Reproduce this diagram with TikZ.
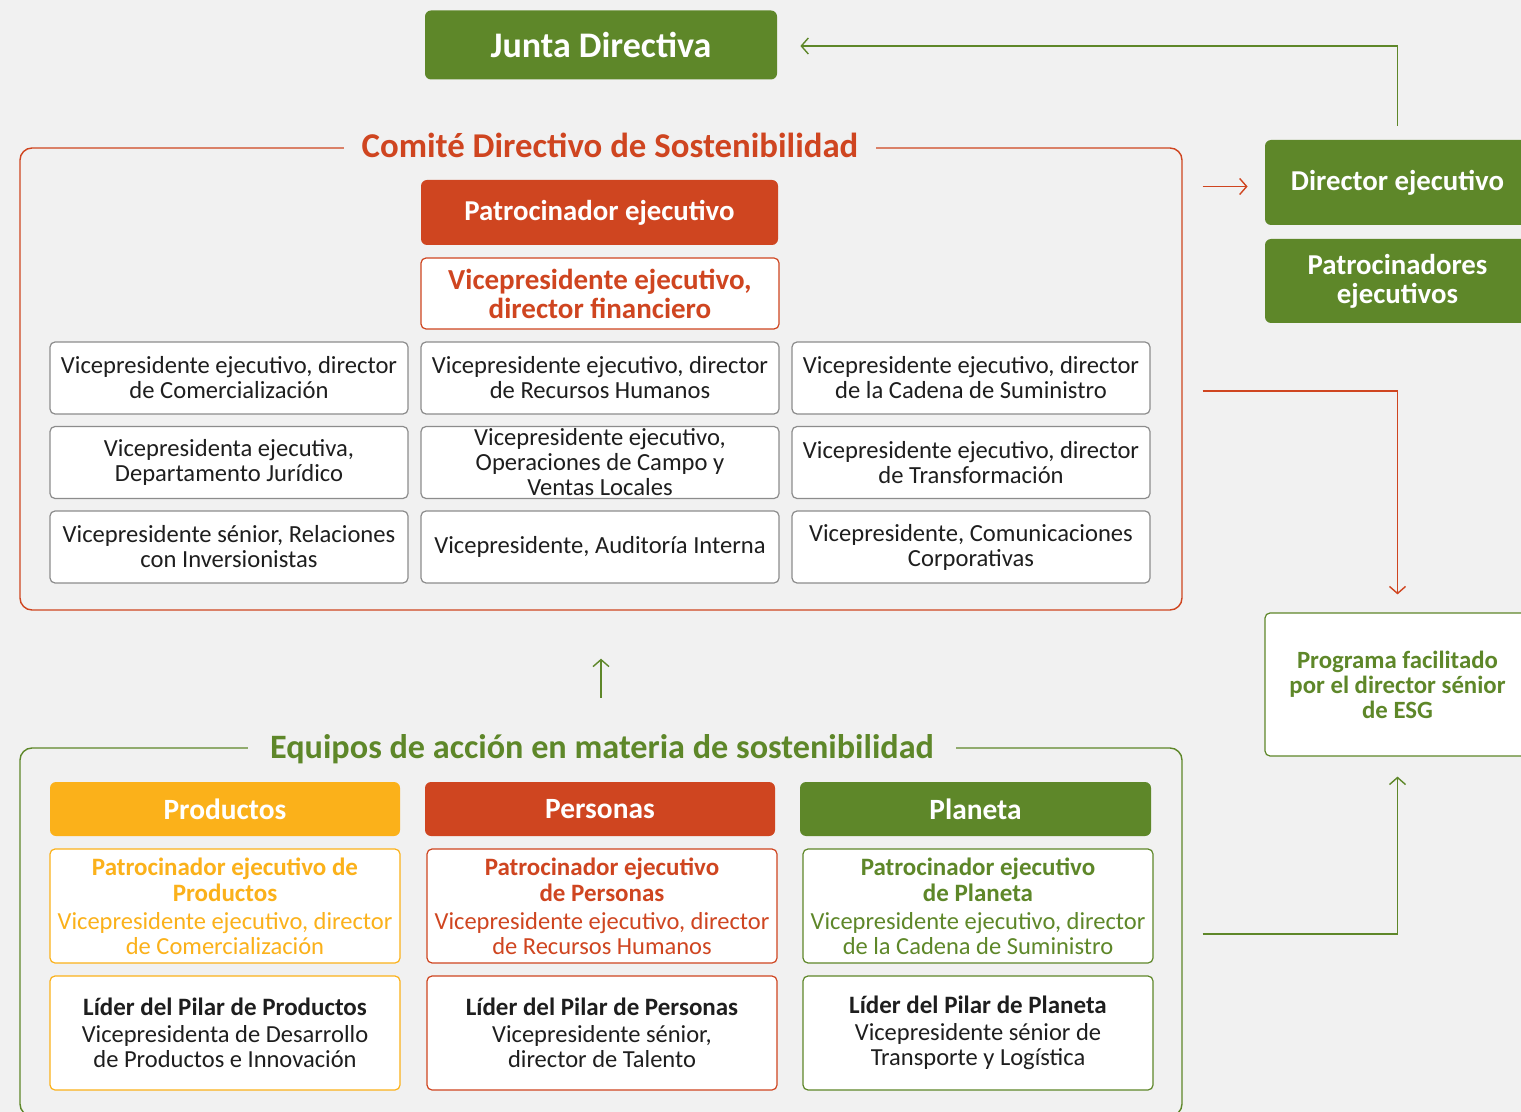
\documentclass[tikz,border=0pt]{standalone}
\usepackage{fontspec}
\setmainfont{Carlito}
\usetikzlibrary{arrows.meta}
\definecolor{cgreen}{HTML}{5E8729}
\definecolor{cred}{HTML}{CF4520}
\definecolor{cyellow}{HTML}{FBB11A}
\definecolor{cbg}{HTML}{F1F1F1}
\definecolor{cgray}{HTML}{8C8C8C}
\definecolor{ctext}{HTML}{1E1E1E}
\newcommand{\fbody}{\fontsize{12.3}{12.5}\selectfont}
\newcommand{\fsub}{\fontsize{12.25}{12.5}\selectfont}
\newcommand{\fsubb}{\bfseries\fontsize{12.5}{12.5}\selectfont}
\begin{document}
\begin{tikzpicture}[x=0.5pt,y=-0.5pt,
  base/.style={align=center, inner sep=0pt, rounded corners=2.5pt},
  fillbox/.style={base, rounded corners=3pt, text=white, font=\bfseries\fontsize{14.4}{14.5}\selectfont},
  gridbox/.style={base, draw=cgray, line width=0.6pt, fill=white, text=ctext,
    minimum width=179pt, minimum height=36pt, font=\fbody},
  subbox/.style={base, line width=0.6pt, fill=white, minimum width=175pt, minimum height=57pt,
    font=\fontsize{12.25}{12.5}\selectfont},
  framebox/.style={line width=0.7pt, rounded corners=6pt, minimum width=581pt},
  ftitle/.style={fill=cbg, inner ysep=2pt},
  arr/.style={-{Straight Barb[length=3.5pt,width=8pt]}, line width=0.7pt}
]
\clip (0,0) rectangle (1521,1112);
\fill[cbg] (0,0) rectangle (1521,1112);

% Junta
\node[fillbox, fill=cgreen, minimum width=176pt, minimum height=34.5pt,
  font=\bfseries\fontsize{18}{20}\selectfont] (junta) at (601,45) {Junta Directiva};

% Comite frame
\node[framebox, draw=cred, minimum height=231pt] (comite) at (601,379) {};
\node[ftitle, text=cred, inner xsep=9pt, font=\bfseries\fontsize{17.4}{19}\selectfont] (ctitle) at (610,145) {Comité Directivo de Sostenibilidad};

\node[fillbox, fill=cred, minimum width=178.5pt, minimum height=32.5pt] (patro) at (599.5,212.5) {Patrocinador ejecutivo};
\node[base, draw=cred, line width=0.6pt, fill=white, text=cred, minimum width=179pt, minimum height=35.5pt,
  font=\bfseries\fontsize{14.5}{14.5}\selectfont] (vpfin) at (600,293.5) {Vicepresidente ejecutivo,\\director financiero};

\node[gridbox] (g11) at (229,378) {Vicepresidente ejecutivo, director\\de Comercialización};
\node[gridbox] (g12) at (600,378) {Vicepresidente ejecutivo, director\\de Recursos Humanos};
\node[gridbox] (g13) at (971,378) {Vicepresidente ejecutivo, director\\de la Cadena de Suministro};
\node[gridbox] (g21) at (229,462.5) {Vicepresidenta ejecutiva,\\Departamento Jurídico};
\node[gridbox] (g22) at (600,462.5) {Vicepresidente ejecutivo,\\Operaciones de Campo y\\Ventas Locales};
\node[gridbox] (g23) at (971,462.5) {Vicepresidente ejecutivo, director\\de Transformación};
\node[gridbox] (g31) at (229,547) {Vicepresidente sénior, Relaciones\\con Inversionistas};
\node[gridbox] (g32) at (600,547) {Vicepresidente, Auditoría Interna};
\node[gridbox] (g33) at (971,547) {Vicepresidente, Comunicaciones\\Corporativas};

% Right column
\node[fillbox, fill=cgreen, minimum width=132.5pt, minimum height=42.5pt] (dir) at (1397.5,182.5) {Director ejecutivo};
\node[fillbox, fill=cgreen, minimum width=132.5pt, minimum height=42pt] (patros) at (1397.5,281) {Patrocinadores\\ejecutivos};
\node[base, draw=cgreen, line width=0.6pt, fill=white, text=cgreen, minimum width=132.5pt, minimum height=71.5pt,
  font=\bfseries\fontsize{12.4}{12.5}\selectfont] (prog) at (1397.5,684.5) {Programa facilitado\\por el director sénior\\de ESG};

% Equipos frame
\node[framebox, draw=cgreen, minimum height=184pt] (equipos) at (601,932) {};
\node[ftitle, text=cgreen, inner xsep=11pt, font=\bfseries\fontsize{17.1}{19}\selectfont] (etitle) at (602,749) {Equipos de acción en materia de sostenibilidad};

\node[fillbox, fill=cyellow, minimum width=175pt, minimum height=27pt, font=\bfseries\fontsize{14.7}{15}\selectfont] (hprod) at (225,809) {Productos};
\node[fillbox, fill=cred, minimum width=175pt, minimum height=27pt, font=\bfseries\fontsize{14.7}{15}\selectfont] (hpers) at (600,809) {Personas};
\node[fillbox, fill=cgreen, minimum width=175.5pt, minimum height=27pt, font=\bfseries\fontsize{14.7}{15}\selectfont] (hplan) at (975.5,809) {Planeta};

\node[subbox, draw=cyellow, text=cyellow] (sprod) at (225,906)
  {{\fsubb Patrocinador ejecutivo de}\\[0.5pt]{\fsubb Productos}\\[1.5pt]{\fsub Vicepresidente ejecutivo, director}\\{\fsub de Comercialización}};
\node[subbox, draw=cred, text=cred] (spers) at (602,906)
  {{\fsubb Patrocinador ejecutivo}\\[0.5pt]{\fsubb de Personas}\\[1.5pt]{\fsub Vicepresidente ejecutivo, director}\\{\fsub de Recursos Humanos}};
\node[subbox, draw=cgreen, text=cgreen] (splan) at (978,906)
  {{\fsubb Patrocinador ejecutivo}\\[0.5pt]{\fsubb de Planeta}\\[1.5pt]{\fsub Vicepresidente ejecutivo, director}\\{\fsub de la Cadena de Suministro}};

\node[subbox, draw=cyellow, text=ctext] (lprod) at (225,1033)
  {{\fsubb Líder del Pilar de Productos}\\[1pt]{\fsub Vicepresidenta de Desarrollo}\\{\fsub de Productos e Innovación}};
\node[subbox, draw=cred, text=ctext] (lpers) at (602,1033)
  {{\fsubb Líder del Pilar de Personas}\\[1pt]{\fsub Vicepresidente sénior,}\\{\fsub director de Talento}};
\node[subbox, draw=cgreen, text=ctext] (lplan) at (978,1033)
  {{\fsubb Líder del Pilar de Planeta}\\[1pt]{\fsub Vicepresidente sénior de}\\{\fsub Transporte y Logística}};

% Connectors
\draw[arr, cgreen] ([yshift=7pt]dir.north) |- ([xshift=11.5pt,yshift=-0.5pt]junta.east);
\draw[arr, cred] ([xshift=10pt,yshift=-2pt]comite.east |- dir.west) -- ([xshift=-8.5pt,yshift=-2pt]dir.west);
\draw[arr, cred] ([xshift=10pt,yshift=-6pt]comite.east) -| ([yshift=9pt]prog.north);
\draw[arr, cgreen] ([xshift=10pt,yshift=-1pt]equipos.east) -| ([yshift=-10pt]prog.south);
\draw[arr, cgreen] ([yshift=-43.5pt]comite.south) -- ([yshift=-24pt]comite.south);
\end{tikzpicture}
\end{document}
